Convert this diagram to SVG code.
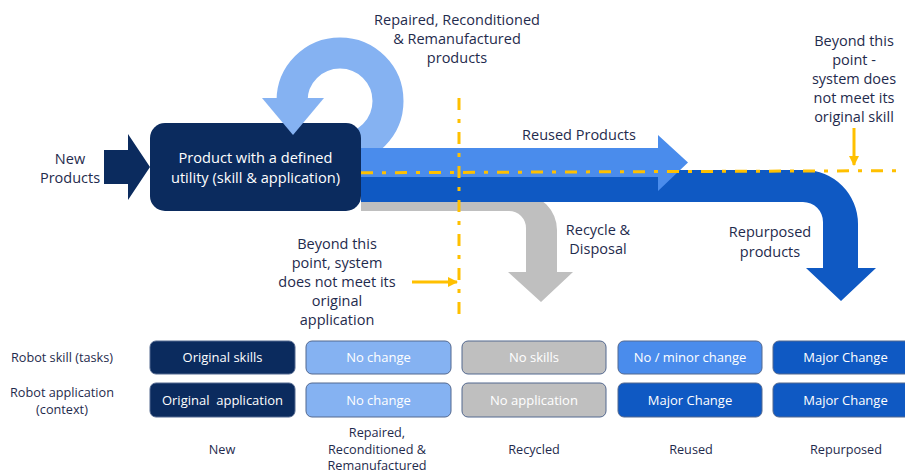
<svg xmlns="http://www.w3.org/2000/svg" width="905" height="473" viewBox="0 0 905 473">
  <style>
    text { font-family: "Open Sans", "Noto Sans", sans-serif; text-anchor: middle; }
    .lbl { font-size: 14.5px; fill: #1f2b4d; }
    .tbl { font-size: 12.7px; fill: #1f2b4d; }
    .box-t { font-size: 13px; fill: #ffffff; }
    .main-t { font-size: 14.6px; fill: #ffffff; }
    .cell { stroke: #53688f; stroke-width: 1; }
    .navy { fill: #0b2b5e; }
    .pale { fill: #85b2f2; }
    .mid { fill: #4a8cec; }
    .deep { fill: #0f59c3; }
    .grey { fill: #bfbfbf; }
    .guide { fill: none; stroke: #ffc000; stroke-width: 3; stroke-dasharray: 12 9 4 9; }
    .pointer { fill: none; stroke: #ffc000; stroke-width: 3; }
  </style>
  <defs>
    <marker id="tipY" viewBox="0 0 10 10" refX="9" refY="5" markerWidth="3.4" markerHeight="3.4" orient="auto">
      <path d="M0,0 L10,5 L0,10 Z" fill="#ffc000"/>
    </marker>
  </defs>

  <rect width="905" height="473" fill="#ffffff"/>

  <!-- flows leaving the product -->
  <g id="connectors">
    <!-- repair loop ring (lower part hidden by the product box) -->
    <path id="loop-ring" d="M340,149 A48,48 0 1 0 292,101" fill="none" stroke="#85b2f2" stroke-width="31"/>
    <!-- recycle & disposal -->
    <path id="flow-recycle" class="grey" d="M361,194 H521 A36,36 0 0 1 557,230 V272 H573 L541,302 L508,272 H526 V228 A17,17 0 0 0 509,211 H361 Z"/>
    <!-- repurposed -->
    <path id="flow-repurpose" class="deep" d="M361,170 H804 A54,54 0 0 1 858,224 V268 H876 L841,301 L806,268 H823 V222 A20,20 0 0 0 803,202 H361 Z"/>
    <!-- reused -->
    <path id="flow-reuse" class="mid" d="M361,148 H658 V135 L688,162.5 L658,191 V177 H361 Z"/>
    <!-- new products in -->
    <path id="flow-new" class="navy" d="M104,150 H128 V134 L150,167 L128,200 V184 H104 Z"/>
  </g>

  <g id="product">
    <rect x="150" y="123" width="211" height="88" rx="15" class="navy"/>
    <text class="main-t" x="255.5" y="163">Product with a defined</text>
    <text class="main-t" x="255.5" y="182.5">utility (skill &amp; application)</text>
  </g>

  <!-- loop arrowhead lands on the product -->
  <path id="loop-head" class="pale" d="M262,98 H324 L293,135 Z"/>

  <!-- limit lines -->
  <g id="limits">
    <line class="guide" x1="459" y1="98" x2="459" y2="320"/>
    <line class="guide" x1="361" y1="172.8" x2="905" y2="170.6"/>
    <line class="pointer" x1="412" y1="282" x2="457" y2="282" marker-end="url(#tipY)"/>
    <line class="pointer" x1="854" y1="128" x2="854" y2="165" marker-end="url(#tipY)"/>
  </g>

  <!-- flow labels -->
  <g id="labels">
    <text class="lbl" x="70" y="163.5">New</text>
    <text class="lbl" x="70" y="182.5">Products</text>
    <text class="lbl" x="457" y="25">Repaired, Reconditioned</text>
    <text class="lbl" x="457" y="44">&amp; Remanufactured</text>
    <text class="lbl" x="457" y="63">products</text>
    <text class="lbl" x="854" y="46">Beyond this</text>
    <text class="lbl" x="854" y="65">point -</text>
    <text class="lbl" x="854" y="84">system does</text>
    <text class="lbl" x="854" y="103">not meet its</text>
    <text class="lbl" x="854" y="122">original skill</text>
    <text class="lbl" x="579" y="140">Reused Products</text>
    <text class="lbl" x="598" y="235">Recycle &amp;</text>
    <text class="lbl" x="598" y="254">Disposal</text>
    <text class="lbl" x="770" y="237">Repurposed</text>
    <text class="lbl" x="770" y="256.5">products</text>
    <text class="lbl" x="337" y="248.5">Beyond this</text>
    <text class="lbl" x="337" y="267.5">point, system</text>
    <text class="lbl" x="337" y="286.5">does not meet its</text>
    <text class="lbl" x="337" y="305.5">original</text>
    <text class="lbl" x="337" y="324.5">application</text>
  </g>

  <!-- comparison table -->
  <g id="row-heads">
    <text class="tbl" x="62" y="362">Robot skill (tasks)</text>
    <text class="tbl" x="62" y="397">Robot application</text>
    <text class="tbl" x="62" y="413.5">(context)</text>
  </g>

  <g id="col-new">
    <rect class="cell navy" x="150" y="341" width="145" height="33" rx="6"/>
    <text class="box-t" x="222.5" y="362">Original skills</text>
    <rect class="cell navy" x="150" y="383" width="145" height="34" rx="6"/>
    <text class="box-t" x="222.5" y="404.5">Original&#160; application</text>
    <text class="tbl" x="222" y="453.5">New</text>
  </g>

  <g id="col-repaired">
    <rect class="cell pale" x="306" y="341" width="145" height="33" rx="6"/>
    <text class="box-t" x="378.5" y="362">No change</text>
    <rect class="cell pale" x="306" y="383" width="145" height="34" rx="6"/>
    <text class="box-t" x="378.5" y="404.5">No change</text>
    <text class="tbl" x="377" y="437">Repaired,</text>
    <text class="tbl" x="377" y="453.5">Reconditioned &amp;</text>
    <text class="tbl" x="377" y="470">Remanufactured</text>
  </g>

  <g id="col-recycled">
    <rect class="cell grey" x="462" y="341" width="144" height="33" rx="6"/>
    <text class="box-t" x="534" y="362">No skills</text>
    <rect class="cell grey" x="462" y="383" width="144" height="34" rx="6"/>
    <text class="box-t" x="534" y="404.5">No application</text>
    <text class="tbl" x="534" y="453.5">Recycled</text>
  </g>

  <g id="col-reused">
    <rect class="cell mid" x="618" y="341" width="144" height="33" rx="6"/>
    <text class="box-t" x="690" y="362">No / minor change</text>
    <rect class="cell deep" x="618" y="383" width="144" height="34" rx="6"/>
    <text class="box-t" x="690" y="404.5">Major Change</text>
    <text class="tbl" x="691" y="453.5">Reused</text>
  </g>

  <g id="col-repurposed">
    <rect class="cell deep" x="773" y="341" width="145" height="33" rx="6"/>
    <text class="box-t" x="845.5" y="362">Major Change</text>
    <rect class="cell deep" x="773" y="383" width="145" height="34" rx="6"/>
    <text class="box-t" x="845.5" y="404.5">Major Change</text>
    <text class="tbl" x="846" y="453.5">Repurposed</text>
  </g>
</svg>
